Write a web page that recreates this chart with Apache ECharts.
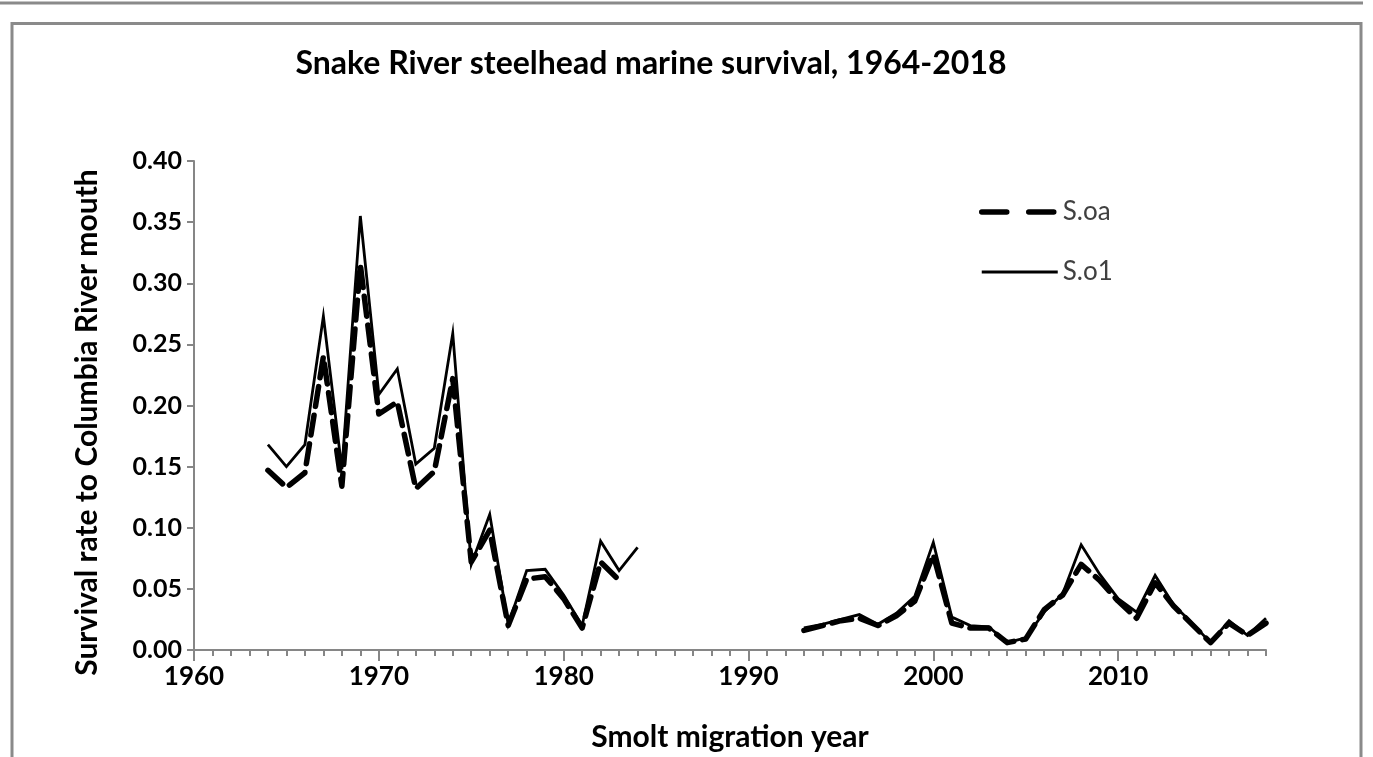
<!DOCTYPE html>
<html>
<head>
<meta charset="utf-8">
<script src="https://cdn.jsdelivr.net/npm/echarts@6/dist/echarts.min.js"></script>
<style>
  html, body { margin: 0; padding: 0; background: #ffffff; }
  #chart { width: 1373px; height: 757px; }
</style>
</head>
<body>
<div id="chart"></div>
<script>
// Smolt migration years (no estimates for 1985-1992)
const years = [
  1964, 1965, 1966, 1967, 1968, 1969, 1970, 1971, 1972, 1973, 1974,
  1975, 1976, 1977, 1978, 1979, 1980, 1981, 1982, 1983, 1984,
  1985, 1986, 1987, 1988, 1989, 1990, 1991, 1992,
  1993, 1994, 1995, 1996, 1997, 1998, 1999, 2000, 2001, 2002, 2003,
  2004, 2005, 2006, 2007, 2008, 2009, 2010, 2011, 2012, 2013, 2014,
  2015, 2016, 2017, 2018
];

// S.oa survival rate to Columbia River mouth
const soaValues = [
  0.147, 0.133, 0.145, 0.240, 0.134, 0.315, 0.193, 0.203, 0.132, 0.146, 0.222,
  0.072, 0.098, 0.020, 0.058, 0.060, 0.042, 0.018, 0.072, 0.057, null,
  null, null, null, null, null, null, null, null,
  0.016, 0.020, 0.024, 0.026, 0.020, 0.028, 0.040, 0.078, 0.022, 0.018, 0.018,
  0.006, 0.009, 0.033, 0.045, 0.070, 0.057, 0.040, 0.026, 0.055, 0.036, 0.021,
  0.006, 0.022, 0.012, 0.022
];

// S.o1 survival rate to Columbia River mouth
const so1Values = [
  0.168, 0.150, 0.168, 0.273, 0.148, 0.355, 0.209, 0.230, 0.152, 0.165, 0.259,
  0.070, 0.111, 0.021, 0.065, 0.066, 0.045, 0.020, 0.089, 0.065, 0.084,
  null, null, null, null, null, null, null, null,
  0.018, 0.021, 0.025, 0.029, 0.021, 0.030, 0.044, 0.088, 0.027, 0.020, 0.019,
  0.006, 0.010, 0.031, 0.046, 0.086, 0.062, 0.042, 0.031, 0.061, 0.037, 0.022,
  0.006, 0.024, 0.012, 0.026
];

// Labelled decade ticks on the year axis
const xTickLabels = [1960, 1970, 1980, 1990, 2000, 2010];

const FONT = 'Lato';
const AXIS_GREY = '#868686';

const pairs = (vals) => years.map((y, i) => [y, vals[i]]);

const chart = echarts.init(document.getElementById('chart'), null, { renderer: 'canvas' });

chart.setOption({
  backgroundColor: '#ffffff',
  animation: false,
  title: {
    text: 'Snake River steelhead marine survival, 1964-2018',
    left: 646,
    textAlign: 'center',
    top: 43,
    textStyle: { fontFamily: FONT, fontWeight: 'bold', fontSize: 32, color: '#000000' }
  },
  legend: {
    data: [
      { name: 'S.oa', lineStyle: { width: 5.5, type: [25, 22], cap: 'round' } },
      { name: 'S.o1', lineStyle: { width: 3, type: 'solid' } }
    ],
    orient: 'vertical',
    left: 974,
    top: 194,
    itemWidth: 76,
    itemHeight: 24,
    itemGap: 34,
    itemStyle: { opacity: 0 },
    textStyle: { fontFamily: FONT, fontSize: 26, color: '#404040' }
  },
  grid: { left: 194, top: 161, right: 107, bottom: 107, containLabel: false },
  xAxis: [
    {
      // labelled decade ticks
      type: 'value',
      position: 'bottom',
      min: 1960,
      max: 2018,
      interval: 10,
      name: 'Smolt migration year',
      nameLocation: 'middle',
      nameGap: 72,
      nameTextStyle: { fontFamily: FONT, fontWeight: 'bold', fontSize: 30, color: '#000000' },
      axisLine: { show: true, lineStyle: { color: AXIS_GREY, width: 2 } },
      axisTick: { show: true, length: 11, customValues: xTickLabels, lineStyle: { color: AXIS_GREY, width: 2 } },
      axisLabel: {
        customValues: xTickLabels,
        formatter: (v) => String(v),
        margin: 14,
        fontFamily: FONT, fontWeight: 'bold', fontSize: 26, color: '#000000'
      },
      splitLine: { show: false }
    },
    {
      // yearly minor ticks
      type: 'value',
      position: 'bottom',
      min: 1960,
      max: 2018,
      interval: 1,
      axisLine: { show: false },
      axisTick: { show: true, length: 6, lineStyle: { color: AXIS_GREY, width: 2 } },
      axisLabel: { show: false },
      splitLine: { show: false }
    }
  ],
  yAxis: {
    type: 'value',
    min: 0,
    max: 0.4,
    interval: 0.05,
    name: 'Survival rate to Columbia River mouth',
    nameLocation: 'middle',
    nameGap: 92,
    nameTextStyle: {
      fontFamily: FONT, fontWeight: 'bold', fontSize: 30, color: '#000000',
      padding: [0, 34, 0, 0]
    },
    axisLine: { show: true, lineStyle: { color: AXIS_GREY, width: 2 } },
    axisTick: { show: true, length: 7, lineStyle: { color: AXIS_GREY, width: 2 } },
    axisLabel: {
      margin: 12,
      formatter: (v) => v.toFixed(2),
      fontFamily: FONT, fontWeight: 'bold', fontSize: 25, color: '#000000'
    },
    splitLine: { show: false }
  },
  series: [
    {
      name: 'S.o1',
      type: 'line',
      data: pairs(so1Values),
      showSymbol: false,
      symbol: 'none',
      connectNulls: false,
      z: 2,
      lineStyle: { color: '#000000', width: 2.8, type: 'solid', join: 'miter' },
      itemStyle: { color: '#000000' }
    },
    {
      name: 'S.oa',
      type: 'line',
      data: pairs(soaValues),
      showSymbol: false,
      symbol: 'none',
      connectNulls: false,
      z: 3,
      lineStyle: { color: '#000000', width: 5.5, type: [20, 9], cap: 'round', join: 'round' },
      itemStyle: { color: '#000000' }
    }
  ],
  graphic: [
    {
      type: 'line',
      shape: { x1: 0, y1: 3, x2: 1363, y2: 3 },
      style: { stroke: '#8a8a8a', lineWidth: 3 },
      silent: true
    },
    {
      type: 'rect',
      shape: { x: 12, y: 23.5, width: 1349, height: 800 },
      style: { fill: null, stroke: '#8a8a8a', lineWidth: 3 },
      silent: true
    }
  ]
});
</script>
</body>
</html>
